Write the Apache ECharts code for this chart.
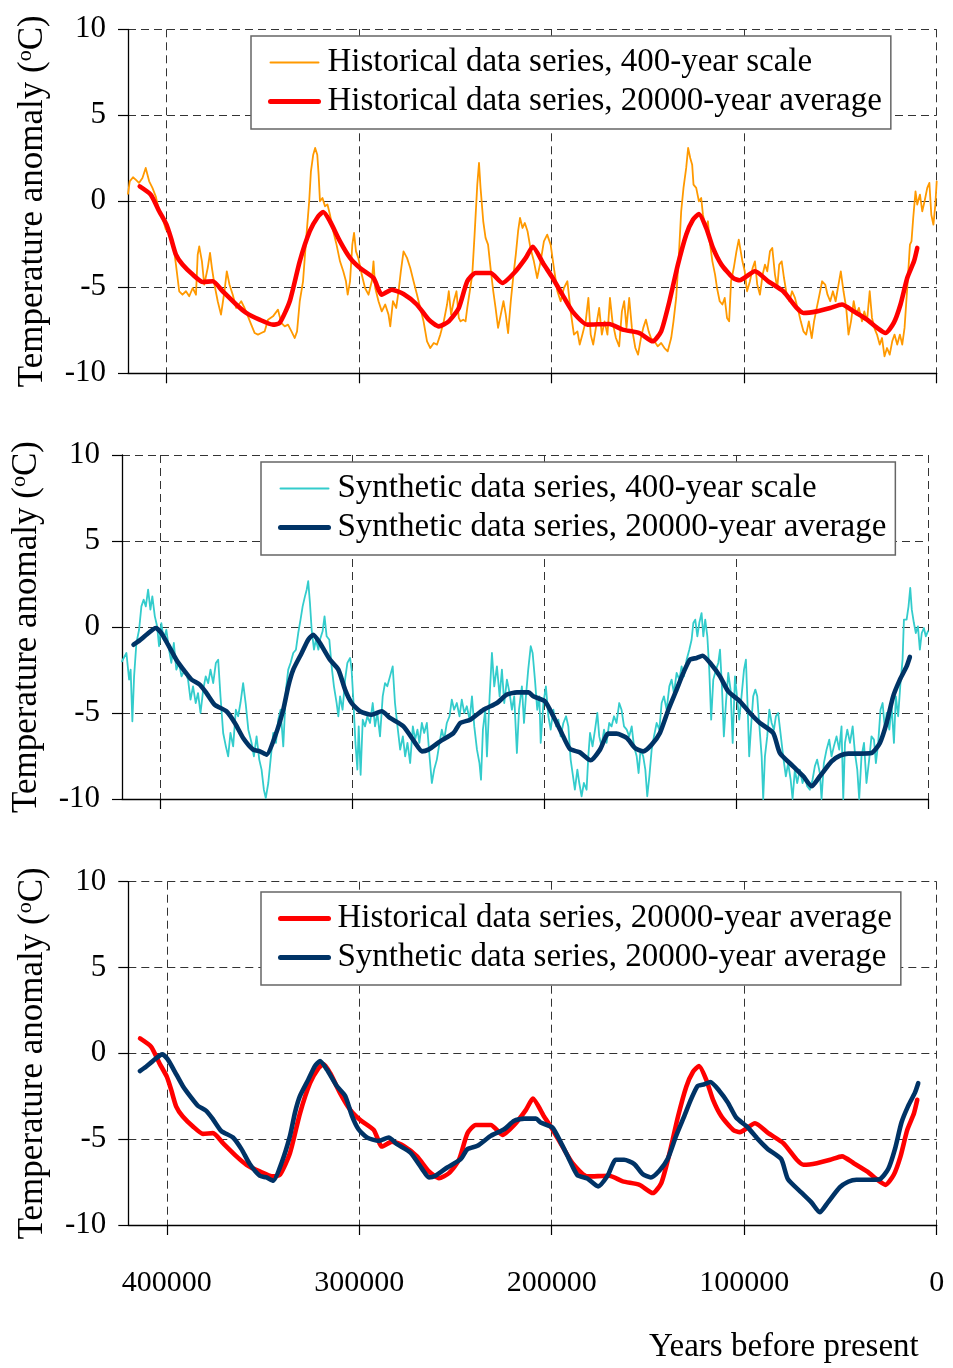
<!DOCTYPE html>
<html>
<head>
<meta charset="utf-8">
<script src="https://cdn.jsdelivr.net/npm/echarts@6/dist/echarts.min.js"></script>
<style>
  html, body { margin: 0; padding: 0; background: #fff; }
  #chart { width: 953px; height: 1368px; }
</style>
</head>
<body>
<div id="chart"></div>
<script>
// Temperature anomaly reconstructions over the last 420,000 years.
// Each series is a list of [thousand years before present, anomaly in °C].

const xTickValues = [0, 100000, 200000, 300000, 400000];
const yTickValues = [-10, -5, 0, 5, 10];
const xTitle = 'Years before present';

const NAME_HIST_FINE = 'Historical data series, 400-year scale';
const NAME_HIST_AVG = 'Historical data series, 20000-year average';
const NAME_SYN_FINE = 'Synthetic data series, 400-year scale';
const NAME_SYN_AVG = 'Synthetic data series, 20000-year average';

const hist400 = [
  [420.0,0.43],[419.1,1.16],[417.4,1.40],[416.0,1.26],[414.3,1.07],[412.5,1.36],[410.8,1.94],[409.9,2.03],
  [409.0,1.16],[407.3,0.78],[405.6,0.29],[403.8,-0.58],[402.1,-0.97],[400.3,-1.65],[398.9,-1.74],[397.7,-2.13],
  [396.0,-2.91],[395.1,-3.68],[393.4,-5.23],[391.7,-5.43],[389.9,-5.23],[388.2,-5.52],[386.4,-5.04],[384.7,-5.43],
  [383.8,-3.10],[383.0,-2.62],[381.6,-3.49],[380.4,-4.84],[378.6,-3.88],[377.4,-3.00],[376.4,-3.88],[375.1,-4.84],
  [373.4,-5.81],[371.7,-6.59],[369.9,-5.23],[368.7,-4.07],[367.3,-4.84],[365.6,-5.43],[363.8,-6.20],[361.2,-5.81],
  [359.5,-6.20],[357.7,-6.69],[356.0,-7.17],[354.2,-7.66],[352.5,-7.75],[350.8,-7.66],[349.0,-7.56],[347.3,-6.88],
  [344.7,-6.69],[342.1,-6.30],[340.4,-7.07],[338.6,-7.27],[336.9,-7.17],[335.1,-7.56],[333.4,-7.95],[332.2,-7.56],
  [330.8,-5.81],[329.1,-4.65],[327.3,-1.94],[325.9,0.00],[325.0,1.74],[323.8,2.71],[322.8,3.10],[321.7,2.71],
  [321.0,1.55],[320.3,0.00],[319.0,0.19],[317.7,-0.29],[316.4,-0.19],[315.1,-0.78],[313.4,-1.74],[311.7,-2.52],
  [309.9,-3.49],[308.2,-4.07],[306.8,-4.65],[305.9,-5.43],[304.7,-4.65],[303.5,-2.52],[302.6,-1.84],[301.6,-2.91],
  [300.4,-3.29],[298.6,-4.26],[296.9,-5.04],[295.1,-5.43],[293.4,-4.65],[292.5,-3.49],[291.6,-5.04],[289.9,-5.81],
  [288.2,-6.40],[286.4,-6.00],[284.7,-6.59],[283.8,-7.27],[282.4,-5.81],[280.7,-6.20],[279.5,-5.23],[278.3,-4.07],
  [276.9,-2.91],[275.1,-3.29],[273.4,-3.88],[271.7,-4.65],[269.9,-5.43],[268.2,-6.20],[266.5,-6.98],[264.7,-8.14],
  [263.0,-8.53],[261.2,-8.24],[259.5,-8.33],[257.8,-7.75],[256.0,-6.98],[254.3,-6.00],[253.4,-5.23],[252.2,-6.59],
  [250.8,-5.81],[249.4,-5.23],[248.2,-6.78],[247.3,-6.98],[245.9,-6.88],[244.7,-6.98],[243.8,-6.20],[242.5,-5.23],
  [241.2,-4.26],[240.0,-1.94],[238.6,0.97],[237.7,2.23],[236.9,0.78],[235.5,-1.16],[234.3,-2.13],[233.0,-2.52],
  [231.7,-3.88],[230.3,-5.23],[229.1,-6.20],[227.8,-7.36],[226.4,-6.59],[225.0,-5.81],[223.8,-6.59],[222.6,-7.66],
  [221.2,-5.81],[219.8,-4.26],[218.6,-3.10],[217.4,-1.74],[216.4,-0.97],[215.1,-1.55],[213.9,-1.26],[212.5,-1.74],
  [211.0,-2.71],[209.2,-3.49],[207.5,-4.46],[205.7,-3.49],[204.0,-2.33],[202.3,-1.94],[200.5,-2.52],[198.8,-3.88],
  [197.0,-5.23],[195.3,-5.81],[193.6,-5.04],[191.8,-4.65],[190.1,-6.40],[188.4,-7.75],[186.6,-7.56],[185.4,-8.33],
  [184.0,-7.75],[182.3,-6.98],[180.9,-5.62],[179.7,-7.75],[178.4,-8.33],[177.0,-7.36],[175.3,-6.20],[173.9,-7.75],
  [172.5,-6.98],[171.0,-7.75],[169.7,-5.62],[168.4,-6.98],[166.6,-7.95],[164.9,-8.43],[163.5,-6.40],[162.3,-5.81],
  [161.1,-7.36],[159.7,-5.62],[158.3,-7.36],[156.5,-8.53],[155.1,-8.91],[153.6,-7.95],[152.4,-7.36],[151.0,-6.88],
  [149.6,-7.56],[148.4,-7.95],[146.6,-8.14],[144.9,-8.43],[143.1,-8.24],[141.4,-8.53],[139.7,-8.72],[137.9,-7.95],
  [136.7,-6.98],[135.3,-5.62],[133.9,-3.10],[132.7,-0.58],[131.5,0.78],[130.1,1.94],[129.1,3.10],[128.0,2.52],
  [127.0,2.13],[126.3,0.97],[124.9,0.78],[123.5,0.00],[122.3,0.19],[121.4,-0.78],[120.0,-1.55],[118.8,-1.16],
  [117.9,-2.33],[116.5,-3.49],[115.1,-4.26],[114.1,-5.04],[112.7,-5.81],[111.3,-6.00],[110.1,-5.62],[108.9,-6.78],
  [107.8,-6.98],[106.8,-4.65],[105.4,-3.88],[104.0,-2.91],[102.8,-2.23],[101.9,-2.13],[100.9,-3.49],[99.7,-4.07],
  [98.5,-5.23],[97.0,-4.65],[95.6,-3.88],[94.4,-3.49],[93.2,-4.84],[91.8,-5.43],[90.4,-4.26],[89.2,-3.68],
  [88.0,-4.07],[86.6,-2.91],[85.4,-2.71],[84.0,-4.26],[82.8,-5.04],[81.8,-3.68],[80.5,-3.49],[79.3,-4.46],
  [77.9,-5.43],[76.5,-5.81],[75.1,-5.23],[73.6,-5.62],[71.8,-6.40],[70.6,-6.98],[69.2,-7.56],[67.8,-7.75],
  [66.4,-6.98],[64.9,-7.95],[63.7,-6.98],[62.3,-6.20],[60.9,-5.43],[59.5,-4.65],[57.9,-4.84],[56.7,-5.43],
  [55.3,-5.81],[53.9,-5.23],[52.5,-5.81],[51.0,-4.84],[49.8,-4.07],[48.4,-5.23],[47.0,-6.20],[45.8,-7.75],
  [44.5,-6.98],[43.1,-5.81],[41.8,-6.59],[40.4,-6.20],[38.8,-6.98],[37.6,-6.40],[36.2,-6.98],[34.8,-5.23],
  [33.6,-6.78],[32.4,-7.36],[31.0,-7.75],[29.6,-8.33],[28.4,-7.95],[27.1,-9.01],[25.8,-8.53],[24.4,-8.91],
  [23.1,-8.14],[21.9,-7.75],[20.5,-8.33],[19.1,-7.75],[17.9,-8.33],[16.7,-7.36],[15.3,-5.04],[13.9,-2.52],
  [13.1,-2.33],[12.2,-0.97],[11.0,0.58],[10.1,-0.19],[8.7,0.39],[7.5,-0.58],[6.3,0.00],[4.9,0.78],
  [3.8,1.07],[2.8,-0.78],[1.7,-1.36],[0.7,-0.19],[0.0,1.16]
];

const hist20k = [
  [413.9,0.87],[408.2,0.39],[403.8,-0.58],[400.0,-1.36],[397.7,-2.13],[395.1,-3.10],[391.7,-3.68],[386.4,-4.26],
  [381.2,-4.69],[376.0,-4.65],[370.8,-5.23],[363.8,-6.00],[358.6,-6.49],[351.7,-6.88],[344.7,-7.17],[341.2,-7.07],
  [336.0,-5.81],[330.8,-3.49],[325.6,-1.74],[321.2,-0.87],[318.6,-0.62],[315.1,-1.16],[309.9,-2.33],[304.7,-3.29],
  [299.5,-3.88],[292.5,-4.46],[288.2,-5.43],[283.0,-5.14],[276.9,-5.39],[270.0,-6.00],[263.8,-6.88],[258.6,-7.27],
  [253.4,-6.98],[248.2,-6.20],[243.8,-4.65],[239.5,-4.17],[231.7,-4.17],[225.6,-4.75],[219.5,-4.17],[213.4,-3.29],
  [209.8,-2.64],[204.0,-3.68],[200.0,-4.36],[194.4,-5.43],[189.2,-6.40],[181.4,-7.17],[170.1,-7.13],[163.1,-7.46],
  [154.4,-7.66],[147.5,-8.14],[143.1,-7.56],[138.8,-5.81],[134.4,-3.68],[130.1,-1.94],[126.6,-1.07],[123.5,-0.74],
  [119.7,-1.55],[116.2,-2.71],[111.8,-3.68],[105.7,-4.46],[102.3,-4.59],[94.4,-4.07],[87.5,-4.65],[79.7,-5.23],
  [72.7,-6.20],[69.2,-6.49],[62.3,-6.40],[55.3,-6.20],[49.2,-6.00],[43.1,-6.40],[36.2,-6.88],[30.9,-7.36],
  [26.6,-7.66],[22.3,-7.07],[18.8,-6.00],[15.3,-4.46],[11.8,-3.49],[10.1,-2.71]
];

const syn400 = [
  [420.0,-2.00],[419.1,-1.80],[417.7,-1.51],[416.3,-3.06],[415.5,-2.48],[414.6,-5.48],[413.7,-2.87],[412.5,-0.93],
  [411.1,-0.16],[409.9,1.20],[408.7,1.59],[407.6,1.20],[406.4,2.17],[405.2,1.01],[404.2,1.78],[402.9,0.62],
  [401.7,0.04],[400.7,-1.12],[399.5,0.23],[398.3,-0.74],[396.9,-0.16],[395.5,-1.32],[394.3,-2.09],[393.0,-0.93],
  [391.7,-2.48],[390.3,-2.09],[389.0,-2.87],[387.3,-2.48],[385.6,-3.06],[384.3,-4.22],[383.0,-3.45],[381.6,-4.42],
  [380.4,-3.84],[379.1,-5.00],[377.7,-3.64],[376.4,-2.87],[375.1,-3.26],[373.9,-2.48],[372.5,-3.26],[371.1,-2.09],
  [369.9,-1.90],[368.7,-4.03],[367.3,-6.16],[365.9,-6.94],[364.7,-7.52],[363.5,-6.16],[362.1,-6.94],[360.7,-4.81],
  [359.5,-5.19],[358.3,-4.42],[356.9,-3.26],[355.6,-4.42],[354.2,-5.97],[352.5,-6.74],[351.3,-7.52],[349.9,-6.36],
  [348.5,-7.71],[347.3,-8.29],[346.1,-9.46],[345.1,-9.94],[343.8,-9.07],[342.6,-7.71],[341.2,-6.16],[339.8,-6.74],
  [338.6,-5.39],[337.4,-4.81],[336.0,-6.94],[334.6,-3.64],[333.4,-2.48],[332.2,-2.09],[330.8,-1.51],[329.4,-1.32],
  [328.2,-0.35],[327.0,0.43],[325.9,1.20],[324.7,1.78],[323.8,2.17],[323.0,2.66],[322.1,1.40],[321.2,-0.16],
  [320.0,-1.32],[319.0,-0.74],[317.7,-1.32],[316.9,-0.74],[315.5,-0.25],[314.5,0.62],[313.4,-0.54],[312.0,-0.74],
  [310.8,-2.29],[309.6,-3.45],[308.2,-4.42],[307.3,-5.19],[306.4,-4.03],[305.1,-4.81],[303.8,-3.06],[302.6,-2.09],
  [301.2,-1.80],[300.4,-2.48],[299.5,-4.22],[298.4,-6.74],[297.4,-8.29],[296.7,-5.78],[295.7,-8.59],[294.6,-5.39],
  [293.4,-5.78],[292.2,-5.19],[290.8,-5.58],[289.4,-4.42],[288.2,-5.78],[287.0,-5.00],[285.6,-6.36],[284.2,-4.03],
  [283.0,-3.26],[281.8,-3.45],[280.4,-2.87],[279.0,-2.29],[277.8,-4.42],[276.5,-5.78],[275.1,-7.13],[273.7,-6.36],
  [272.5,-7.52],[271.3,-6.74],[269.9,-7.91],[268.5,-5.78],[267.3,-6.55],[266.1,-5.97],[265.1,-6.74],[263.8,-5.58],
  [262.6,-6.16],[261.2,-5.58],[259.8,-7.52],[258.6,-9.07],[257.4,-8.29],[256.0,-7.71],[254.6,-6.74],[253.4,-5.97],
  [252.2,-6.55],[250.8,-5.58],[249.4,-5.19],[248.2,-4.22],[247.0,-4.81],[245.6,-4.42],[244.2,-5.19],[243.0,-4.22],
  [241.7,-5.00],[240.4,-4.61],[238.9,-5.39],[237.7,-4.03],[236.5,-5.78],[235.1,-7.13],[233.8,-7.91],[233.0,-8.88],
  [232.0,-5.97],[230.8,-4.81],[229.9,-7.52],[228.5,-4.03],[227.3,-1.51],[226.1,-3.45],[224.7,-2.29],[223.3,-4.03],
  [222.1,-2.48],[220.9,-4.42],[219.5,-3.06],[218.1,-3.84],[216.9,-4.81],[215.7,-4.03],[214.3,-7.33],[213.2,-4.81],
  [211.7,-3.45],[210.6,-5.58],[209.6,-4.03],[208.4,-2.48],[207.1,-1.12],[206.1,-1.51],[204.9,-3.06],[203.7,-4.81],
  [202.6,-4.03],[201.9,-6.74],[200.5,-4.42],[199.2,-3.45],[197.9,-5.19],[196.7,-5.97],[195.3,-4.81],[193.9,-5.78],
  [192.7,-5.39],[191.5,-6.36],[190.1,-5.58],[188.7,-5.19],[187.5,-5.78],[186.3,-7.71],[185.3,-8.49],[184.1,-9.46],
  [182.8,-8.29],[181.8,-9.07],[180.6,-9.84],[179.4,-9.07],[178.0,-9.46],[177.1,-7.52],[176.2,-6.16],[174.9,-6.94],
  [173.6,-5.97],[172.4,-5.00],[171.4,-6.36],[170.2,-6.94],[168.9,-5.97],[167.6,-6.74],[166.2,-5.58],[165.0,-5.78],
  [163.7,-5.19],[162.4,-5.58],[161.0,-4.42],[159.8,-4.81],[158.5,-5.78],[157.1,-5.97],[155.8,-6.36],[154.5,-5.78],
  [153.3,-6.94],[151.9,-7.52],[150.9,-8.49],[149.9,-7.13],[148.5,-7.52],[147.4,-8.29],[146.4,-9.84],[145.3,-8.68],
  [144.1,-7.13],[142.9,-6.36],[141.5,-5.58],[140.1,-5.97],[138.9,-4.42],[137.7,-4.03],[136.3,-4.81],[134.9,-3.45],
  [133.7,-3.06],[132.5,-3.84],[131.1,-2.67],[129.7,-3.06],[128.5,-2.29],[127.3,-2.87],[125.9,-1.90],[124.5,-1.32],
  [123.3,-0.74],[122.4,0.23],[121.4,0.43],[120.3,-0.54],[119.3,0.23],[118.1,0.81],[117.2,-0.54],[116.2,0.43],
  [115.1,-0.54],[114.1,-2.48],[113.1,-5.39],[112.0,-3.06],[110.6,-2.48],[109.4,-2.09],[108.5,-1.32],[107.5,-3.45],
  [106.5,-6.36],[105.4,-4.42],[104.2,-2.67],[103.0,-3.64],[101.9,-6.74],[100.7,-2.87],[99.5,-4.22],[98.5,-5.39],
  [97.3,-4.03],[96.0,-2.48],[95.0,-1.90],[94.0,-5.00],[93.3,-7.52],[92.2,-5.58],[91.2,-4.03],[90.1,-3.64],
  [89.1,-4.03],[88.1,-5.58],[86.8,-7.52],[86.0,-10.00],[85.1,-7.52],[83.9,-6.36],[82.8,-4.81],[81.6,-5.58],
  [80.4,-5.97],[79.4,-5.19],[78.2,-5.00],[77.0,-6.16],[75.6,-7.52],[74.2,-8.68],[73.0,-7.91],[71.7,-8.88],
  [70.7,-10.00],[69.5,-8.29],[68.3,-9.07],[66.9,-8.29],[65.5,-9.07],[64.3,-8.68],[63.1,-9.26],[61.7,-9.46],
  [60.3,-8.88],[59.1,-8.10],[57.9,-7.71],[56.5,-8.49],[55.6,-10.00],[54.4,-7.91],[53.0,-7.13],[51.6,-6.55],
  [50.4,-7.52],[49.2,-6.94],[47.8,-6.36],[46.4,-7.13],[45.2,-5.78],[44.3,-10.00],[43.4,-6.74],[42.2,-5.97],
  [40.8,-6.74],[39.4,-5.78],[38.2,-7.33],[37.0,-8.29],[36.0,-10.00],[34.8,-7.52],[33.5,-6.74],[32.2,-9.07],
  [30.8,-7.71],[29.6,-6.36],[28.3,-6.55],[27.3,-7.91],[26.1,-6.74],[24.9,-4.81],[23.8,-4.42],[22.6,-5.97],
  [21.7,-5.00],[20.3,-5.97],[19.1,-4.61],[17.9,-6.74],[16.9,-4.03],[15.7,-5.19],[14.5,-3.26],[13.4,-1.90],
  [12.7,0.43],[11.3,0.43],[10.3,1.20],[9.4,2.27],[8.6,1.01],[7.5,0.23],[6.5,-0.35],[5.4,0.04],
  [4.4,-1.32],[3.4,-0.35],[2.3,-0.06],[1.3,-0.54],[0.2,-0.25]
];

const syn20k = [
  [414.0,-1.03],[410.8,-0.78],[407.3,-0.45],[402.4,-0.06],[399.5,-0.35],[396.0,-1.03],[391.7,-1.90],[387.3,-2.58],
  [383.8,-3.06],[379.5,-3.35],[376.0,-3.84],[371.7,-4.52],[365.6,-4.90],[361.2,-5.58],[356.9,-6.45],[351.7,-7.13],
  [348.2,-7.23],[344.7,-7.42],[340.3,-6.36],[336.0,-4.81],[333.4,-3.45],[330.8,-2.48],[326.4,-1.51],[323.0,-0.74],
  [320.4,-0.45],[316.9,-0.93],[311.7,-1.90],[307.3,-2.48],[303.8,-3.64],[300.4,-4.42],[296.0,-4.90],[289.9,-5.10],
  [284.7,-4.90],[280.4,-5.29],[273.4,-5.78],[267.3,-6.74],[263.8,-7.23],[260.4,-7.13],[254.3,-6.65],[247.3,-6.16],
  [243.8,-5.58],[238.6,-5.39],[231.7,-4.81],[224.7,-4.42],[219.5,-3.93],[214.3,-3.80],[208.2,-3.80],[205.8,-4.03],
  [199.7,-4.32],[195.3,-5.19],[191.0,-6.16],[186.7,-7.09],[181.5,-7.29],[175.9,-7.75],[171.0,-7.13],[166.7,-6.20],
  [162.4,-6.20],[157.1,-6.45],[152.8,-7.03],[148.5,-7.23],[144.1,-6.84],[139.8,-6.16],[135.4,-4.81],[131.1,-3.64],
  [127.6,-2.67],[124.2,-1.90],[120.7,-1.80],[117.6,-1.67],[112.9,-2.19],[108.5,-2.87],[104.2,-3.74],[98.1,-4.32],
  [92.9,-5.00],[87.7,-5.58],[80.8,-6.16],[77.3,-7.33],[70.4,-8.10],[65.1,-8.68],[60.8,-9.26],[56.5,-8.68],
  [50.4,-7.81],[46.0,-7.48],[41.7,-7.36],[35.6,-7.36],[29.6,-7.33],[25.2,-6.74],[21.7,-5.58],[18.3,-4.03],
  [14.8,-3.06],[11.3,-2.29],[9.6,-1.74]
];

const FONT = 'Liberation Serif';
const COLORS = { orange: '#FF9900', red: '#FF0000', teal: '#33CCCC', navy: '#003366' };
const WIDTH = { fine: 1.8, avg: 4.6 };

const toYears = arr => arr.map(p => [p[0] * 1000, p[1]]);

const panels = [
  { left: 128, top: 29.3, width: 808.7, height: 344, legend: { left: 251, top: 36 } },
  { left: 120.7, top: 455, width: 807.6, height: 344, legend: { left: 261, top: 462 } },
  { left: 128.3, top: 881.7, width: 808.4, height: 343.3, legend: { left: 261, top: 892 } }
];

const grid = panels.map(p => ({ left: p.left, top: p.top, width: p.width, height: p.height, containLabel: false }));

const xAxis = panels.map((p, i) => ({
  gridIndex: i,
  type: 'value',
  min: 0,
  max: 420000,
  interval: 100000,
  inverse: true,
  axisLine: { show: true, onZero: false, lineStyle: { color: '#000', width: 1.3 } },
  axisTick: { show: true, inside: false, length: 10, customValues: xTickValues, lineStyle: { color: '#000', width: 1.2 } },
  axisLabel: {
    show: i === 2, customValues: xTickValues, margin: 43,
    fontFamily: FONT, fontSize: 30, color: '#000',
    formatter: v => String(v)
  },
  splitLine: { show: true, lineStyle: { color: '#333', width: 1, type: [8, 5] } }
}));

const yAxis = panels.map((p, i) => ({
  gridIndex: i,
  type: 'value',
  min: -10,
  max: 10,
  interval: 5,
  position: 'left',
  name: '{t|Temperature anomaly (}{s|o}{t|C)}',
  nameLocation: 'middle',
  nameGap: 76,
  nameTextStyle: {
    rich: {
      t: { fontFamily: FONT, fontSize: 35, color: '#000', lineHeight: 38 },
      s: { fontFamily: FONT, fontSize: 22, color: '#000', verticalAlign: 'top', lineHeight: 24 }
    }
  },
  axisLine: { show: true, onZero: false, lineStyle: { color: '#000', width: 1.3 } },
  axisTick: { show: true, inside: false, length: 10, lineStyle: { color: '#000', width: 1.2 } },
  axisLabel: { margin: 22, fontFamily: FONT, fontSize: 31, color: '#000', customValues: yTickValues },
  splitLine: { show: true, lineStyle: { color: '#333', width: 1, type: [8, 5] } }
}));

function lineSeries(name, data, idx, color, width, z, smooth) {
  return {
    type: 'line', name, xAxisIndex: idx, yAxisIndex: idx,
    data: toYears(data),
    symbol: 'none', showSymbol: false, clip: true, silent: true, animation: false,
    smooth: smooth || false,
    lineStyle: { color, width, join: 'round', cap: 'round' },
    itemStyle: { color },
    z
  };
}

const series = [
  lineSeries(NAME_HIST_FINE, hist400, 0, COLORS.orange, WIDTH.fine, 2),
  lineSeries(NAME_HIST_AVG, hist20k, 0, COLORS.red, WIDTH.avg, 3, 0.2),
  lineSeries(NAME_SYN_FINE, syn400, 1, COLORS.teal, WIDTH.fine, 2),
  lineSeries(NAME_SYN_AVG, syn20k, 1, COLORS.navy, WIDTH.avg, 3, 0.2),
  lineSeries(NAME_HIST_AVG, hist20k, 2, COLORS.red, WIDTH.avg, 2, 0.2),
  lineSeries(NAME_SYN_AVG, syn20k, 2, COLORS.navy, WIDTH.avg, 3, 0.2)
];

// Legend entries with explicit sample-line widths
const legendItem = (name, color, width) => ({ name, lineStyle: { color, width }, itemStyle: { opacity: 0 } });
const legendData = [
  [legendItem(NAME_HIST_FINE, COLORS.orange, 2), legendItem(NAME_HIST_AVG, COLORS.red, 5)],
  [legendItem(NAME_SYN_FINE, COLORS.teal, 2), legendItem(NAME_SYN_AVG, COLORS.navy, 5)],
  [legendItem(NAME_HIST_AVG, COLORS.red, 5), legendItem(NAME_SYN_AVG, COLORS.navy, 5)]
];

const legend = panels.map((p, i) => ({
  orient: 'vertical',
  left: p.legend.left,
  top: p.legend.top,
  padding: [10, 9, 11, 17],
  itemGap: 6,
  itemWidth: 48,
  itemHeight: 14,
  borderColor: '#666',
  borderWidth: 1.5,
  borderRadius: 0,
  backgroundColor: '#fff',
  selectedMode: false,
  itemStyle: { opacity: 0 },
  textStyle: { fontFamily: FONT, fontSize: 33, color: '#000', padding: [0, 0, 0, 4] },
  data: legendData[i],
  z: 10
}));

const chart = echarts.init(document.getElementById('chart'), null, { renderer: 'canvas' });
chart.setOption({
  backgroundColor: '#fff',
  animation: false,
  grid, xAxis, yAxis, series, legend,
  graphic: [{
    type: 'text', left: 649, top: 1331,
    style: { text: xTitle, fontFamily: FONT, fontSize: 33, fill: '#000' }
  }]
});
</script>
</body>
</html>
